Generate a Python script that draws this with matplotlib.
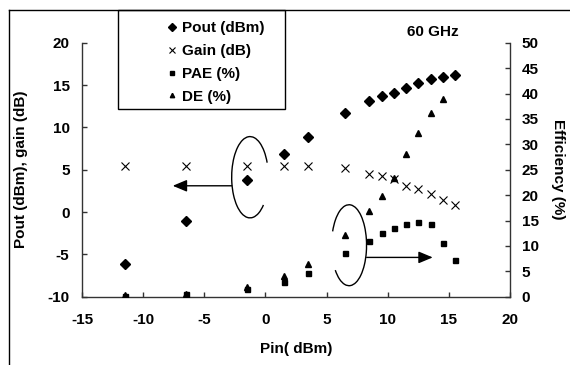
import numpy as np
import matplotlib
matplotlib.use("Agg")
import matplotlib.pyplot as plt
from matplotlib.patches import Arc, Rectangle
from matplotlib.lines import Line2D

plt.rcParams['font.family'] = ['Liberation Sans', 'DejaVu Sans']
plt.rcParams['font.weight'] = 'bold'
plt.rcParams['font.size'] = 11
plt.rcParams['axes.unicode_minus'] = False

# ---- data ----
pin = [-11.5, -6.5, -1.5, 1.5, 3.5, 6.5, 8.5, 9.5, 10.5, 11.5, 12.5, 13.5, 14.5, 15.5]
pout = [-6.1, -1.1, 3.8, 6.9, 8.85, 11.7, 13.15, 13.65, 14.1, 14.65, 15.2, 15.7, 15.9, 16.2]
gain = [5.4, 5.4, 5.4, 5.4, 5.4, 5.15, 4.5, 4.2, 3.9, 3.1, 2.7, 2.15, 1.4, 0.85]
pae = [0.2, 0.5, 1.5, 2.95, 4.7, 8.7, 11.0, 12.5, 13.5, 14.3, 14.8, 14.3, 10.5, 7.2]
pin_de = [-11.5, -6.5, -1.5, 1.5, 3.5, 6.5, 8.5, 9.5, 10.5, 11.5, 12.5, 13.5, 14.5]
de = [0.3, 0.6, 2.0, 4.1, 6.4, 12.2, 16.9, 19.9, 23.4, 28.1, 32.2, 36.1, 38.9]

xticks = [-15, -10, -5, 0, 5, 10, 15, 20]
yticks = [-10, -5, 0, 5, 10, 15, 20]
eticks = [0, 5, 10, 15, 20, 25, 30, 35, 40, 45, 50]

W, H = 570, 365
fig = plt.figure(figsize=(W / 100, H / 100), dpi=100)
ax = fig.add_axes([82 / W, 1 - 296.7 / H, 428 / W, 254 / H])
ax2 = ax.twinx()

h1, = ax.plot(pin, pout, linestyle='none', marker='D', ms=5.2, color='black', label='Pout (dBm)')
h2, = ax.plot(pin, gain, linestyle='none', marker='x', ms=6, mew=0.8, color='black', label='Gain (dB)')
h3, = ax2.plot(pin, pae, linestyle='none', marker='s', ms=3.6, color='black', label='PAE (%)')
h4, = ax2.plot(pin_de, de, linestyle='none', marker='^', ms=4.2, color='black', label='DE (%)')

ax.set_xlim(-15, 20)
ax.set_ylim(-10, 20)
ax2.set_ylim(0, 50)
ax.set_xticks(xticks)
ax.set_yticks(yticks)
ax2.set_yticks(eticks)

for a in (ax, ax2):
    a.spines['top'].set_visible(False)
    for s in a.spines.values():
        s.set_linewidth(1.0)
        s.set_color('#333333')
ax.spines['right'].set_visible(False)
ax2.spines['left'].set_visible(False)
ax2.spines['bottom'].set_visible(False)

ax.tick_params(axis='x', direction='in', length=3.5, width=1, pad=12, labelsize=11, color='#333333')
ax.tick_params(axis='y', direction='in', length=3.5, width=1, pad=9, labelsize=11, color='#333333')
ax2.tick_params(axis='y', direction='in', length=3.5, width=1, pad=8.5, labelsize=11, color='#333333')

ax.set_xlabel('Pin( dBm)', fontweight='bold', fontsize=11)
ax.set_ylabel('Pout (dBm), gain (dB)', fontweight='bold', fontsize=11)
ax2.set_ylabel('Efficiency (%)', fontweight='bold', fontsize=11, rotation=270, va='center')
ax.xaxis.set_label_coords(0.5, -0.177)
ax.yaxis.set_label_coords(-0.126, 0.5)
ax2.yaxis.set_label_coords(1.112, 0.5)

ax.text(433.3, H - 32.3, '60 GHz', transform=None, ha='center', va='center',
        fontweight='bold', fontsize=11)


def arc(axis, cx, cy, w, h, p1, p2):
    # p1, p2: parametric angles; convert to geometric angles expected by Arc
    def conv(p):
        r = np.deg2rad(p)
        return np.rad2deg(np.arctan2(h * np.sin(r), w * np.cos(r)))
    t1, t2 = conv(p1), conv(p2)
    if t2 <= t1:
        t2 += 360
    axis.add_patch(Arc((cx, cy), w, h, theta1=t1, theta2=t2, color='black', lw=1.0))


arc(ax, -1.26, 4.11, 3.0, 9.6, 21, 317)
arc(ax, 6.84, -3.92, 2.86, 9.56, -142, 160)

astyle = dict(arrowstyle='-|>,head_length=0.86,head_width=0.36', color='black', lw=1.0,
              shrinkA=0, shrinkB=0, mutation_scale=10)
ax.annotate('', xy=(-7.58, 3.1), xytext=(-2.75, 3.1), arrowprops=astyle)
ax.annotate('', xy=(13.68, -5.36), xytext=(8.28, -5.36), arrowprops=astyle)

# legend
leg = ax2.legend(handles=[h1, h2, h3, h4], loc='upper left', frameon=False,
                 bbox_to_anchor=(152 / W, 1 - 9 / H), bbox_transform=fig.transFigure,
                 handlelength=1.0, handletextpad=0.16, labelspacing=0.58, borderpad=0.3,
                 prop={'weight': 'bold', 'size': 11}, markerscale=0.75)
fig.add_artist(Rectangle((118 / W, 1 - 109 / H), 167 / W, 99 / H, transform=fig.transFigure,
                         fill=False, edgecolor='black', lw=1.0))

# outer frame (top and left)
fig.add_artist(Line2D([9 / W, 1], [1 - 10 / H, 1 - 10 / H], transform=fig.transFigure, color='black', lw=1.0))
fig.add_artist(Line2D([9 / W, 9 / W], [0, 1 - 10 / H], transform=fig.transFigure, color='black', lw=1.0))

fig.savefig('out.png', dpi=100)
